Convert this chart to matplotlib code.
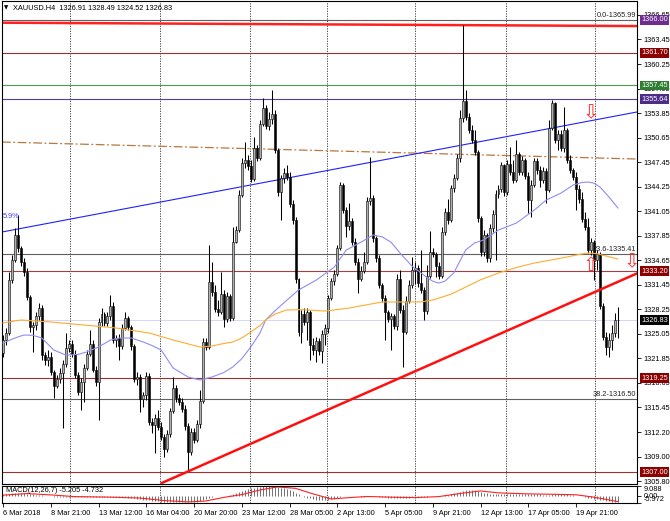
import numpy as np
import matplotlib
matplotlib.use("Agg")
import matplotlib.pyplot as plt
from matplotlib.transforms import blended_transform_factory

plt.rcParams['font.family'] = ['Liberation Sans', 'DejaVu Sans']
FS = 5.3

# ---------------- data (XAUUSD H4) ----------------
first_open = 1322.54
closes = [
    1324.24, 1325.15, 1332.07, 1334.68, 1337.94, 1336.24, 1334.42, 1333.11, 1329.85, 1325.93,
    1326.20, 1327.37, 1328.41, 1322.28, 1321.63, 1322.02, 1320.06, 1318.24, 1319.15, 1319.93,
    1321.11, 1323.19, 1323.71, 1322.41, 1319.67, 1317.45, 1318.76, 1320.58, 1322.41, 1323.71,
    1320.32, 1318.76, 1326.59, 1327.63, 1326.46, 1327.37, 1328.67, 1324.24, 1324.50, 1323.45,
    1325.80, 1327.11, 1325.93, 1323.45, 1319.15, 1319.41, 1316.54, 1317.06, 1319.54, 1313.54,
    1313.15, 1314.06, 1312.89, 1311.58, 1310.01, 1311.97, 1314.97, 1317.97, 1316.67, 1316.15,
    1315.23, 1313.02, 1309.62, 1312.23, 1311.19, 1313.28, 1316.28, 1323.98, 1323.32, 1331.81,
    1330.50, 1328.28, 1327.89, 1330.24, 1326.98, 1329.98, 1327.11, 1337.02, 1338.59, 1343.16,
    1347.33, 1347.72, 1346.94, 1345.24, 1349.29, 1347.98, 1352.42, 1354.51, 1352.16, 1353.07,
    1353.73, 1349.03, 1343.55, 1345.37, 1346.03, 1345.51, 1341.98, 1339.89, 1332.20, 1325.28,
    1327.63, 1326.59, 1327.89, 1323.58, 1322.93, 1324.11, 1322.80, 1325.02, 1325.80, 1329.72,
    1331.94, 1332.85, 1336.24, 1344.46, 1341.20, 1339.11, 1339.76, 1337.02, 1334.42, 1332.20,
    1333.24, 1334.42, 1342.37, 1342.77, 1337.55, 1334.94, 1331.41, 1329.72, 1327.89, 1326.98,
    1327.37, 1326.07, 1332.20, 1328.15, 1325.28, 1329.33, 1331.41, 1333.37, 1333.63, 1331.67,
    1330.76, 1328.02, 1332.59, 1335.72, 1335.46, 1333.89, 1332.59, 1338.33, 1340.94, 1339.89,
    1344.07, 1345.37, 1347.98, 1353.20, 1355.42, 1353.33, 1351.64, 1350.33, 1348.77, 1340.16,
    1335.72, 1337.94, 1334.94, 1338.85, 1340.68, 1343.29, 1343.94, 1347.07, 1343.55, 1347.20,
    1346.16, 1345.11, 1348.51, 1346.16, 1347.72, 1345.64, 1342.50, 1344.46, 1347.59, 1346.42,
    1345.11, 1346.29, 1343.81, 1351.90, 1355.16, 1350.33, 1351.12, 1349.29, 1351.64, 1347.72,
    1346.42, 1345.51, 1343.94, 1342.64, 1340.02, 1338.98, 1335.98, 1337.02, 1334.68, 1335.46,
    1328.67, 1324.63, 1323.32, 1324.24, 1325.15, 1326.91, 1326.83]
highs = [
    1324.89, 1325.80, 1333.11, 1335.33, 1338.85, 1340.55, 1336.50, 1334.94, 1333.63, 1330.11,
    1326.59, 1327.89, 1329.06, 1328.80, 1322.67, 1322.93, 1322.67, 1320.32, 1319.67, 1320.58,
    1321.63, 1325.15, 1324.24, 1324.24, 1322.93, 1320.06, 1319.28, 1321.11, 1322.93, 1325.54,
    1324.24, 1320.84, 1327.11, 1328.41, 1327.89, 1327.89, 1330.11, 1329.20, 1324.89, 1325.02,
    1326.33, 1327.89, 1327.37, 1326.20, 1323.71, 1320.06, 1319.80, 1317.45, 1320.06, 1319.93,
    1314.06, 1314.58, 1315.10, 1313.54, 1311.97, 1312.49, 1315.37, 1319.41, 1318.37, 1317.19,
    1316.67, 1315.76, 1313.41, 1312.76, 1312.76, 1313.80, 1317.71, 1324.50, 1324.50, 1336.63,
    1334.42, 1331.41, 1329.46, 1333.11, 1330.76, 1330.50, 1330.24, 1338.98, 1339.11, 1343.81,
    1347.98, 1350.07, 1348.38, 1347.72, 1350.72, 1349.68, 1352.94, 1355.81, 1354.90, 1353.99,
    1356.86, 1354.25, 1349.29, 1345.77, 1346.68, 1347.07, 1346.16, 1342.50, 1340.29, 1332.33,
    1328.15, 1328.41, 1328.41, 1328.15, 1324.50, 1324.63, 1324.50, 1325.54, 1326.33, 1330.11,
    1332.33, 1333.37, 1336.63, 1344.85, 1344.72, 1341.59, 1342.11, 1340.16, 1337.55, 1334.94,
    1333.89, 1335.72, 1342.90, 1348.12, 1343.16, 1337.81, 1335.33, 1331.67, 1330.11, 1328.15,
    1327.76, 1327.63, 1332.85, 1333.37, 1328.80, 1329.98, 1332.07, 1335.07, 1334.42, 1334.02,
    1335.98, 1331.15, 1334.02, 1338.46, 1336.24, 1335.72, 1334.42, 1338.98, 1341.46, 1342.64,
    1344.46, 1345.90, 1348.51, 1354.25, 1365.34, 1356.86, 1353.86, 1352.29, 1351.64, 1349.03,
    1340.42, 1338.59, 1338.20, 1339.37, 1341.20, 1343.81, 1344.46, 1347.46, 1347.20, 1347.72,
    1349.42, 1347.72, 1350.33, 1348.77, 1348.25, 1347.98, 1346.16, 1345.11, 1347.98, 1347.98,
    1346.94, 1346.81, 1346.68, 1352.94, 1355.55, 1355.29, 1351.64, 1351.64, 1354.64, 1351.90,
    1348.38, 1346.68, 1346.16, 1344.46, 1343.55, 1340.94, 1340.16, 1337.55, 1337.28, 1335.98,
    1335.72, 1329.06, 1325.28, 1325.15, 1326.20, 1327.76, 1328.49]
lows = [
    1322.02, 1323.58, 1324.89, 1331.67, 1334.42, 1335.72, 1333.89, 1332.59, 1329.46, 1325.28,
    1322.67, 1325.54, 1326.85, 1321.63, 1320.98, 1320.84, 1319.67, 1316.67, 1317.97, 1318.63,
    1312.76, 1320.72, 1322.67, 1322.02, 1319.28, 1317.06, 1315.10, 1316.15, 1320.32, 1322.15,
    1320.06, 1318.24, 1313.80, 1326.07, 1326.07, 1326.07, 1326.85, 1323.84, 1323.32, 1321.63,
    1323.06, 1325.54, 1325.54, 1322.93, 1318.76, 1318.37, 1314.84, 1315.50, 1316.41, 1313.15,
    1312.10, 1309.50, 1312.49, 1311.19, 1308.97, 1309.62, 1311.58, 1314.71, 1316.15, 1315.76,
    1314.84, 1312.49, 1307.27, 1309.23, 1310.80, 1310.93, 1312.76, 1316.02, 1322.93, 1323.06,
    1329.98, 1327.89, 1327.37, 1327.63, 1325.93, 1326.59, 1326.72, 1326.85, 1336.89, 1338.33,
    1342.90, 1346.68, 1346.42, 1344.85, 1344.98, 1347.59, 1347.72, 1352.16, 1351.77, 1351.64,
    1352.42, 1348.64, 1343.03, 1339.89, 1344.72, 1345.11, 1341.59, 1339.37, 1331.67, 1324.76,
    1323.84, 1326.20, 1324.24, 1321.63, 1322.28, 1321.37, 1322.28, 1321.24, 1323.58, 1325.15,
    1329.46, 1331.41, 1332.59, 1335.98, 1340.81, 1337.68, 1338.59, 1336.63, 1334.02, 1330.37,
    1331.94, 1332.98, 1334.15, 1341.85, 1337.02, 1334.42, 1331.02, 1329.20, 1324.24, 1326.59,
    1322.93, 1325.67, 1325.54, 1327.76, 1320.72, 1325.02, 1329.06, 1331.02, 1331.54, 1331.15,
    1330.37, 1326.85, 1327.63, 1332.33, 1335.07, 1332.46, 1332.20, 1332.33, 1337.94, 1339.37,
    1339.63, 1343.55, 1345.11, 1347.46, 1352.68, 1352.94, 1351.25, 1349.94, 1348.38, 1339.63,
    1335.20, 1335.20, 1334.42, 1334.42, 1338.33, 1334.68, 1342.77, 1343.55, 1343.03, 1343.16,
    1345.77, 1344.72, 1344.85, 1345.77, 1345.77, 1345.24, 1340.81, 1340.29, 1344.20, 1345.90,
    1344.20, 1344.72, 1342.11, 1343.55, 1351.64, 1349.94, 1349.03, 1348.90, 1348.77, 1347.33,
    1346.03, 1345.11, 1341.20, 1342.11, 1339.63, 1338.59, 1335.59, 1335.33, 1332.07, 1333.37,
    1328.28, 1324.24, 1322.28, 1322.02, 1322.93, 1324.63, 1324.52]

# moving averages (read at sample bars)
ma_fast_idx = [0, 4, 7, 10, 13, 17, 21, 25, 28, 32, 36, 39, 43, 47, 50, 53, 57, 62, 66, 70,
               74, 77, 80, 83, 86, 88, 91, 94, 99, 105, 111, 115, 120, 124, 127, 130, 133,
               137, 142, 144, 146, 148, 151, 155, 158, 161, 166, 172, 178, 182, 187, 191,
               194, 196, 198, 200, 203, 206]
ma_fast_val = [1323.84, 1324.50, 1324.89, 1324.85, 1324.50, 1322.93, 1322.28, 1322.35, 1322.67,
               1323.32, 1324.24, 1324.50, 1324.50, 1323.98, 1323.50, 1322.93, 1320.58, 1319.41,
               1319.02, 1319.41, 1320.00, 1320.72, 1321.80, 1323.32, 1325.10, 1326.85, 1328.00,
               1329.06, 1330.76, 1332.07, 1333.76, 1335.98, 1337.02, 1337.94, 1337.70, 1337.00,
               1335.59, 1333.89, 1332.40, 1331.90, 1331.67, 1331.90, 1332.98, 1335.98, 1336.90,
               1337.28, 1338.59, 1339.50, 1341.20, 1342.50, 1343.42, 1344.46, 1344.80, 1344.85,
               1344.70, 1344.20, 1342.90, 1341.46]
ma_slow_idx = [0, 6, 16, 27, 38, 49, 57, 66, 70, 73, 77, 80, 83, 86, 88, 91, 95, 100, 108,
               116, 127, 140, 144, 150, 155, 160, 166, 172, 178, 184, 189, 193, 196, 199, 202,
               206]
ma_slow_val = [1326.46, 1326.85, 1326.59, 1326.20, 1325.80, 1325.15, 1324.24, 1323.32, 1323.45,
               1323.71, 1323.98, 1324.50, 1325.28, 1326.10, 1326.85, 1327.60, 1328.15, 1328.20,
               1328.02, 1328.41, 1329.20, 1329.20, 1329.46, 1330.20, 1331.15, 1332.10, 1332.98,
               1333.70, 1334.28, 1334.70, 1335.07, 1335.40, 1335.59, 1335.50, 1335.20, 1334.81]

# MACD(12,26,7) histogram per bar and signal line
macd_main = [
    1.5, 2.0, 2.4, 2.7, 2.9,
    3.0, 2.9, 2.7, 2.4, 2.0, 1.6, 1.3, 1.0, 0.7, 0.4,
    0.2, 0.0, -0.3, -0.5, -0.6, -0.6, -0.5, -0.4, -0.5, -0.7, -0.9, -1.0, -1.0, -0.9, -0.8, -0.9, -1.0, -0.9,
    -0.8, -0.7, -0.7, -0.6, -0.7, -0.8, -0.9, -1.0, -1.0, -1.1, -1.4, -1.8, -2.2, -2.6,
    -3.0, -3.2, -3.6, -4.0, -4.3, -4.6, -4.9, -5.1, -5.2, -5.1, -4.9, -4.8, -4.8, -4.9, -5.0, -5.3, -5.2, -5.0, -4.7, -4.2,
    -3.2, -2.5, -1.3, -0.6, -0.2, 0.1, 0.4, 0.5, 0.6, 0.8, 1.6,
    2.5, 3.6, 4.8, 5.8, 6.5, 7.0, 7.6, 7.9, 8.4, 8.8, 9.0, 9.0, 9.0, 8.8, 8.2,
    7.6, 7.0, 6.4, 5.6, 4.6, 3.2, 1.6, 0.5, -0.4, -1.2, -1.9, -2.5, -3.0, -3.4,
    -3.6, -3.5, -3.2, -2.7, -2.2, -1.6, -0.6,
    -0.1, 0.1, 0.2, 0.2, 0.1, -0.2, -0.4, -0.5, 0.0, 0.3,
    0.2, 0.0, -0.3, -0.7, -1.0, -1.3, -1.5, -1.6, -1.4, -1.4, -1.5, -1.3, -1.1, -0.8, -0.6, -0.5,
    -0.5, -0.6, -0.4, -0.1, 0.1, 0.1, 0.0, 0.4, 0.9,
    1.4, 2.0, 2.6, 3.3, 4.2, 5.0, 5.4, 5.6, 5.6, 5.3, 4.6, 3.7, 3.1, 2.5, 2.2,
    2.0, 2.0, 2.1, 2.2, 2.2, 2.3, 2.3, 2.2, 2.2, 2.1, 2.0, 1.8, 1.6, 1.6, 1.7, 1.7, 1.6, 1.5, 1.3, 1.5,
    2.0, 2.1, 2.0, 1.9, 1.8, 1.6, 1.3, 1.0, 0.6, 0.2, -0.2,
    -0.7, -1.2, -1.6, -2.0, -2.3, -2.9, -3.6, -4.2, -4.6, -4.9, -5.1, -5.205]
signal_idx = [0, 8, 16, 24, 36, 46, 54, 62, 68, 74, 80, 86, 92, 98, 104, 110, 116, 122, 130,
              138, 146, 154, 160, 166, 176, 186, 192, 198, 206]
signal_val = [1.0, 2.4, 1.2, -0.3, -0.8, -1.6, -3.8, -5.0, -4.2, -1.0, 1.5, 5.5, 8.3, 7.0, 2.0,
              -2.4, -1.2, -0.2, -0.8, -1.2, -0.3, 2.8, 4.7, 3.0, 2.1, 1.7, 1.3, -0.8, -4.732]

price_ticks = [1366.65, 1363.45, 1360.25, 1357.05, 1353.85, 1350.65, 1347.45, 1344.25, 1341.05,
               1337.85, 1334.65, 1331.45, 1328.25, 1325.05, 1321.85, 1318.65, 1315.45, 1312.20,
               1309.00, 1305.80]
date_labels = ['6 Mar 2018', '8 Mar 21:00', '13 Mar 12:00', '16 Mar 04:00', '20 Mar 20:00',
               '23 Mar 12:00', '28 Mar 05:00', '2 Apr 13:00', '5 Apr 05:00', '9 Apr 21:00',
               '12 Apr 13:00', '17 Apr 05:00', '19 Apr 21:00']
date_pos = [0, 16, 32, 48, 64, 80, 96, 112, 128, 144, 160, 176, 192]
grid_pos = [22.4, 52.6, 82.7, 108.5, 138.0, 168.5, 198.3]

# horizontal levels: (price, line colour, label colour)
levels = [(1361.70, '#a03030', '#8b0000'), (1357.45, '#4f9a4f', '#2e7d32'),
          (1355.64, '#5c3c8c', '#4b2c87'), (1333.20, '#a04040', '#8b0000'),
          (1319.25, '#a03030', '#8b0000'), (1307.00, '#a03030', '#8b0000')]
fibs = [('0.0', 1365.99), ('23.6', 1335.41), ('38.2', 1316.50)]

# --------------------------------------------------------------------------
W, H = 670, 521
fig = plt.figure(figsize=(W / 100, H / 100), dpi=100)
ax = fig.add_axes([2 / W, (H - 484) / H, 635 / W, 483 / H])
am = fig.add_axes([2 / W, (H - 503) / H, 635 / W, 17 / H])

n = len(closes)
x = np.arange(n)
o = np.array([first_open] + closes[:-1])
c = np.array(closes)
hi = np.maximum.reduce([np.array(highs), o, c])
lo = np.minimum.reduce([np.array(lows), o, c])
XL = (-0.335, 212.4)

ax.vlines(x, lo, hi, color='black', lw=0.75, zorder=3)
bull = c >= o
body_h = np.maximum(np.abs(c - o), 0.06)
ax.bar(x[bull], body_h[bull], bottom=o[bull], width=0.66, color='#b0b0b0',
       edgecolor='black', linewidth=0.4, zorder=4)
ax.bar(x[~bull], body_h[~bull], bottom=c[~bull], width=0.66, color='black',
       edgecolor='black', linewidth=0.4, zorder=4)

# moving averages
ax.plot(ma_fast_idx, ma_fast_val, color='#8e8ef0', lw=0.8, zorder=5)
ax.plot(ma_slow_idx, ma_slow_val, color='#ffac30', lw=0.8, zorder=5)

# levels and objects
ax.axhline(1326.83, color='#d0d0f4', lw=0.6, zorder=1)
for p, lc, _ in levels:
    ax.axhline(p, color=lc, lw=0.8, zorder=2)
for name, p in fibs:
    ax.axhline(p, color='#606060', lw=0.8, zorder=2)
    ax.text(XL[1] - 0.3, p + 0.15, '%s-%.2f' % (name, p), ha='right', va='bottom',
            fontsize=FS, color='#202020', zorder=6)
ax.plot(XL, [1365.64, 1365.20], color='#ff2020', lw=1.8, zorder=2)
ax.plot(XL, [1350.07, 1347.85], color='#b87840', lw=0.9, dashes=[7, 2, 1.5, 2], zorder=2)
ax.plot(XL, [1338.33, 1353.99], color='#2020ff', lw=0.8, zorder=2)
ax.plot([53.2, 212.7], [1305.58, 1332.98], color='#ff1010', lw=1.8, zorder=6)
ax.text(0.0, 1339.9, '5.9%', fontsize=FS, color='#4040ff', va='bottom', ha='left')

for gx in grid_pos:
    ax.axvline(gx, color='#303030', lw=0.6, ls=(0, (1.5, 1.5)), zorder=1)
    am.axvline(gx, color='#303030', lw=0.6, ls=(0, (1.5, 1.5)), zorder=1)

# signal arrows
arrow_kw = dict(fontsize=14, color='#ff3030', ha='center', va='center',
                family='DejaVu Sans', zorder=7)
ax.text(197, 1353.9, '\u21e9', **arrow_kw)
ax.text(197, 1334.0, '\u21e7', **arrow_kw)
ax.text(210.7, 1334.5, '\u21e9', **arrow_kw)

ax.set_xlim(*XL)
ax.set_ylim(1305.45, 1368.47)
ax.set_xticks([])
ax.yaxis.tick_right()
ax.set_yticks(price_ticks)
ax.set_yticklabels(['%.2f' % v for v in price_ticks])
ax.tick_params(axis='y', labelsize=FS, length=3, width=0.6, pad=1.5, colors='black')

# price labels on the axis
tr = blended_transform_factory(ax.transAxes, ax.transData)
for p, _, bc in levels + [(1366.00, None, '#6e2c90'), (1326.83, None, 'black')]:
    ax.text(1 + 4 / 635, p, '%.2f' % p, transform=tr, fontsize=FS, color='white',
            ha='left', va='center', clip_on=False, zorder=10,
            bbox=dict(facecolor=bc, edgecolor='none', pad=1.0))

for s in ax.spines.values():
    s.set_linewidth(0.8)

# MACD panel
am.vlines(x, 0, macd_main, color='#707070', lw=0.7)
am.plot(signal_idx, signal_val, color='#ff2020', lw=0.8)
am.set_xlim(*XL)
am.set_ylim(-5.972, 9.088)
am.yaxis.tick_right()
am.set_yticks([9.088, 0.0, -5.972])
am.set_yticklabels(['9.088', '0.00', '-5.972'])
vas = ['top', 'center', 'bottom']
for lbl, va in zip(am.get_yticklabels(), vas):
    lbl.set_va(va)
am.tick_params(axis='y', labelsize=FS, length=3, width=0.6, pad=1.5)
am.set_xticks(date_pos)
am.set_xticklabels(date_labels)
for lbl in am.get_xticklabels():
    lbl.set_ha('left')
am.tick_params(axis='x', labelsize=FS, length=3, width=0.6, pad=2)
am.text(0.006, 0.92, 'MACD(12,26,7) -5.205 -4.732', transform=am.transAxes,
        fontsize=FS, va='top', ha='left')
for s in am.spines.values():
    s.set_linewidth(0.8)

fig.text(4 / W, 1 - 8 / H, '\u25bc', fontsize=4, va='center', ha='left', family='DejaVu Sans')
fig.text(13 / W, 1 - 8 / H, 'XAUUSD.H4  1326.91 1328.49 1324.52 1326.83', fontsize=FS,
         va='center', ha='left')

fig.savefig('out.png', dpi=100)
